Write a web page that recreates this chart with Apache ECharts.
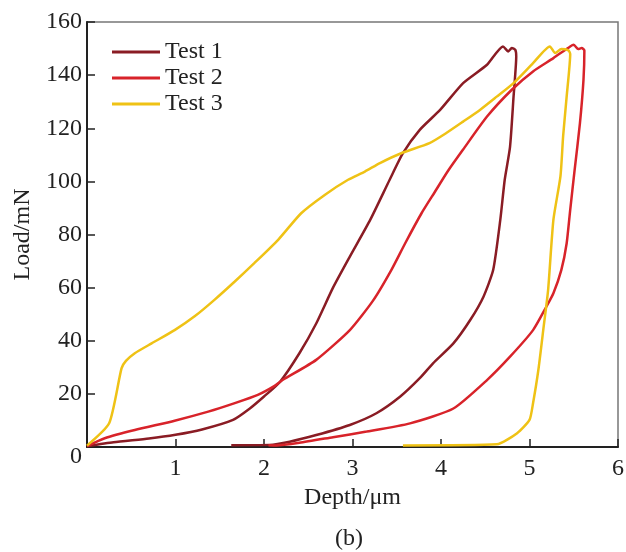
<!DOCTYPE html>
<html>
<head>
  <meta charset="UTF-8">
  <script src="https://cdn.jsdelivr.net/npm/echarts@6/dist/echarts.min.js"></script>
  <style>
    html, body { margin: 0; padding: 0; background: #fff; }
    #chart { width: 626px; height: 552px; }
  </style>
</head>
<body>
  <div id="chart"></div>
  <script>
    // depth (um) / load (mN), loading branch then unloading branch
    var test1Depth = [0, 0.3, 0.7, 1.0, 1.3, 1.65, 1.84, 2.0, 2.18, 2.4, 2.59, 2.78, 2.97, 3.2, 3.42, 3.57, 3.76, 3.99, 4.25, 4.52, 4.70, 4.76, 4.80, 4.84,
                      4.85, 4.82, 4.78, 4.72, 4.67, 4.59, 4.48, 4.33, 4.14, 3.91, 3.76, 3.54, 3.27, 2.97, 2.59, 2.29, 2.06, 1.63];
    var test1Load  = [0.3, 1.8, 3.2, 4.6, 6.6, 10.2, 14.5, 19, 24.5, 35.3, 46.5, 60, 71.7, 85.5, 100.6, 110.6, 119.4, 126.9, 137, 143.9, 150.8, 148.9, 150.2, 149.5,
                      147, 132, 113, 100.6, 85.5, 66.7, 56.6, 47.8, 39, 31.5, 25.9, 19, 12.7, 8.3, 4.5, 2, 0.8, 0.7];

    var test2Depth = [0, 0.2, 0.54, 0.99, 1.37, 1.67, 1.93, 2.12, 2.21, 2.59, 2.97, 3.23, 3.44, 3.60, 3.78, 3.93, 4.08, 4.25, 4.52, 4.80, 5.04, 5.27, 5.46, 5.50, 5.55, 5.59, 5.62,
                      5.61, 5.57, 5.51, 5.46, 5.42, 5.36, 5.27, 5.19, 5.04, 4.78, 4.52, 4.14, 3.65, 3.16, 2.78, 2.40, 2.14, 2.05];
    var test2Load  = [0.3, 3.3, 6.4, 9.9, 13.3, 16.5, 19.6, 23, 25.2, 32.8, 44, 55, 66.7, 77, 88, 96, 104, 112, 124.4, 134.5, 141.4, 146.4, 150.8, 151.4, 149.8, 150.2, 149.3,
                      138.2, 121.9, 104.3, 89.3, 76.7, 66.7, 57.9, 52.8, 44, 34, 25.2, 14.5, 8.9, 5.8, 3.7, 1.6, 0.6, 0.7];

    var test3Depth = [0, 0.25, 0.39, 0.44, 0.54, 0.73, 0.99, 1.22, 1.44, 1.67, 1.89, 2.16, 2.42, 2.69, 2.95, 3.14, 3.31, 3.55, 3.87, 4.06, 4.25, 4.44, 4.63, 4.82, 5.04, 5.23, 5.29, 5.36, 5.44,
                      5.46, 5.42, 5.38, 5.35, 5.27, 5.21, 5.16, 5.10, 5.04, 5.0, 4.86, 4.63, 3.57];
    var test3Load  = [0.5, 8.9, 29.6, 32.4, 35.3, 39, 44, 49.3, 55.4, 62.3, 69.2, 78, 88, 95, 100.6, 103.7, 106.9, 110.6, 114.4, 118.2, 122.5, 126.9, 131.9, 137, 144.5, 150.8, 148.3, 149.8, 149.3,
                      148, 132, 117, 102, 85.5, 59, 45.3, 29, 16.5, 10.2, 5.2, 1.0, 0.6];

    var seriesNames = ['Test 1', 'Test 2', 'Test 3'];
    var seriesColors = ['#8a1c24', '#d8232a', '#efc215'];

    function pairs(xs, ys) {
      return xs.map(function (x, i) { return [x, ys[i]]; });
    }
    var seriesData = [pairs(test1Depth, test1Load), pairs(test2Depth, test2Load), pairs(test3Depth, test3Load)];

    var font = 'Liberation Serif';
    var chart = echarts.init(document.getElementById('chart'));

    chart.setOption({
      animation: false,
      backgroundColor: '#fff',
      textStyle: { fontFamily: font },
      title: {
        text: '(b)',
        left: 330,
        top: 522,
        textStyle: { fontFamily: font, fontSize: 24, fontWeight: 'normal', color: '#222' }
      },
      legend: {
        data: seriesNames,
        orient: 'vertical',
        left: 107,
        top: 35,
        itemWidth: 48,
        itemHeight: 3,
        itemGap: 2,
        icon: 'rect',
        textStyle: { fontFamily: font, fontSize: 24, color: '#222' }
      },
      grid: {
        left: 87, right: 8, top: 22, bottom: 105,
        outerBoundsMode: 'none',
        containLabel: false,
        show: true,
        borderColor: '#777',
        borderWidth: 1.5
      },
      xAxis: {
        type: 'value',
        min: 0, max: 6, interval: 1,
        name: 'Depth/\u03bcm',
        nameLocation: 'middle',
        nameGap: 38,
        nameTextStyle: { fontFamily: font, fontSize: 24, color: '#222' },
        axisLine: { lineStyle: { color: '#222', width: 2 } },
        axisTick: { inside: true, length: 8, lineStyle: { color: '#222', width: 1.5 } },
        axisLabel: {
          fontFamily: font, fontSize: 24, color: '#222', margin: 10,
          formatter: function (v) { return v === 0 ? '' : v; }
        },
        splitLine: { show: false }
      },
      yAxis: {
        type: 'value',
        min: 0, max: 160, interval: 20,
        name: 'Load/mN',
        nameLocation: 'middle',
        nameGap: 52,
        nameTextStyle: { fontFamily: font, fontSize: 24, color: '#222' },
        axisLine: { show: true, lineStyle: { color: '#222', width: 2 } },
        axisTick: { show: true, inside: true, length: 8, lineStyle: { color: '#222', width: 1.5 } },
        axisLabel: {
          fontFamily: font, fontSize: 24, color: '#222', margin: 5,
          formatter: function (v) { return v === 0 ? '{z|0}' : v; },
          rich: { z: { fontFamily: font, fontSize: 24, color: '#222', padding: [20, 0, 0, 0] } }
        },
        splitLine: { show: false }
      },
      series: seriesNames.map(function (name, i) {
        return {
          name: name,
          type: 'line',
          data: seriesData[i],
          showSymbol: false,
          symbol: 'none',
          smooth: 0.2,
          color: seriesColors[i],
          lineStyle: { color: seriesColors[i], width: 2.5 }
        };
      })
    });
  </script>
</body>
</html>
